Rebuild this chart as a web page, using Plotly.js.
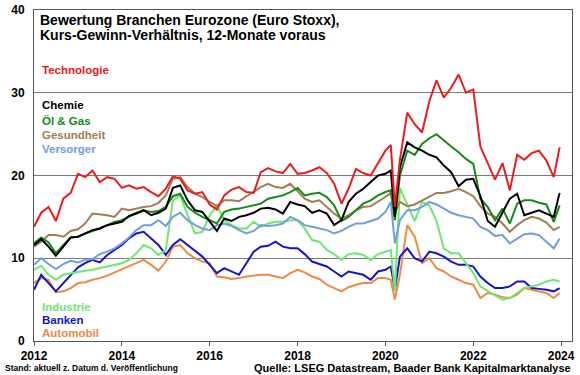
<!DOCTYPE html>
<html>
<head>
<meta charset="utf-8">
<script src="https://cdn.plot.ly/plotly-3.0.1.min.js"></script>
<style>html,body{margin:0;padding:0;background:#fff;}#chart{width:580px;height:375px;}</style>
</head>
<body>
<div id="chart"></div>
<script>
const dates = ["2012-01-01","2012-03-01","2012-05-01","2012-07-01","2012-09-01","2012-11-01",
"2013-01-01","2013-03-01","2013-05-01","2013-07-01","2013-09-01","2013-11-01",
"2014-01-01","2014-03-01","2014-05-01","2014-07-01","2014-09-01","2014-11-01",
"2015-01-01","2015-03-01","2015-05-01","2015-07-01","2015-09-01","2015-11-01",
"2016-01-01","2016-03-01","2016-05-01","2016-07-01","2016-09-01","2016-11-01",
"2017-01-01","2017-03-01","2017-05-01","2017-07-01","2017-09-01","2017-11-01",
"2018-01-01","2018-03-01","2018-05-01","2018-07-01","2018-09-01","2018-11-01",
"2019-01-01","2019-03-01","2019-05-01","2019-07-01","2019-09-01","2019-11-01",
"2020-01-01","2020-02-15","2020-03-20","2020-05-01","2020-07-01","2020-09-01","2020-11-01",
"2021-01-01","2021-03-01","2021-05-01","2021-07-01","2021-09-01","2021-11-01",
"2022-01-01","2022-03-01","2022-05-01","2022-07-01","2022-09-01","2022-11-01",
"2023-01-01","2023-03-01","2023-05-01","2023-07-01","2023-09-01","2023-11-01","2023-12-20"];

const technologie = [13.8,15.5,16.2,14.5,17.2,17.9, 20.2,19.8,20.6,19.2,19.8,19.6, 18.5,18.8,18.4,18.6,18.0,17.5,
 18.4,19.9,19.6,18.2,17.8,18.0, 16.5,15.9,17.6,18.3,18.6,18.0, 17.9,20.4,20.9,20.5,20.3,21.4,
 20.2,20.3,20.6,21.0,20.3,19.0, 16.6,18.4,20.8,20.3,20.0,21.5, 23.0,23.7,16.2,21.9,27.6,26.2,25.2,
 29.0,31.5,29.4,30.6,32.2,30.0, 30.4,23.5,21.5,19.5,21.5,18.2, 22.5,21.9,22.7,23.0,21.8,19.8,23.4];

const chemie = [11.6,12.3,11.4,10.3,11.4,12.5, 12.6,13.0,13.4,13.6,14.0,14.2, 14.4,15.1,15.4,15.8,15.2,15.5,
 16.0,18.5,18.8,17.0,15.8,15.6, 14.5,13.3,14.8,14.5,15.0,15.2, 15.5,16.0,16.1,15.9,15.4,16.8,
 16.5,16.3,15.5,15.8,15.4,14.0, 14.6,16.8,17.8,18.4,19.2,20.0, 20.2,20.6,15.0,21.0,24.0,23.4,23.0,
 22.5,22.2,21.2,20.4,18.7,19.5, 19.6,17.5,14.5,13.8,15.5,17.2, 17.8,15.2,15.5,15.8,15.4,15.0,17.9];

const oelGas = [11.8,12.5,11.9,10.6,11.6,12.5, 12.6,13.0,13.3,13.6,14.0,14.4, 14.6,15.0,15.5,15.8,15.6,15.7,
 16.2,17.5,17.8,16.2,15.5,15.0, 14.6,14.2,15.6,15.9,16.0,16.2, 16.4,16.6,17.2,17.4,17.6,18.0,
 18.5,17.6,17.8,17.9,17.4,16.4, 14.5,15.0,15.8,16.6,17.0,17.6, 18.0,18.2,14.6,20.0,23.0,22.5,23.8,
 24.5,25.0,24.2,23.5,22.8,22.0, 21.4,17.2,16.2,14.6,16.0,14.2, 16.6,17.0,17.0,16.7,16.5,14.4,16.4];

const gesundheit = [11.4,12.0,12.8,12.8,12.6,13.3, 13.5,14.2,15.4,15.3,15.2,15.0, 16.0,15.8,16.0,16.2,16.3,16.7,
 17.6,19.6,19.8,18.6,17.8,17.4, 16.8,16.3,17.0,17.0,16.9,17.5, 18.0,18.6,19.0,18.6,18.5,19.0,
 18.1,17.2,16.8,17.0,16.2,15.4, 14.8,15.2,15.8,16.2,16.3,16.8, 17.4,17.9,15.5,16.8,16.3,16.5,17.0,
 17.4,17.9,17.9,18.1,18.4,18.0, 17.5,16.3,15.4,15.0,14.2,13.2, 14.0,14.6,15.0,14.8,14.3,13.4,13.8];

const versorger = [9.2,10.0,9.3,8.7,9.3,9.7, 9.5,9.8,9.9,10.5,10.8,11.2, 11.8,12.5,13.4,14.0,14.0,14.6,
 13.9,15.0,15.5,14.6,14.0,13.6, 13.4,14.0,14.2,13.9,13.4,13.0, 13.3,14.0,13.9,14.0,14.2,15.0,
 14.6,14.0,13.8,13.6,13.4,13.0, 13.3,13.8,14.2,14.2,14.5,14.8, 15.6,16.8,11.8,14.6,15.8,15.8,16.2,
 16.8,16.5,16.0,15.5,15.2,15.0, 14.8,13.8,13.4,12.7,12.8,11.8, 12.4,12.9,13.0,12.8,12.0,11.2,12.4];

const industrie = [8.6,9.1,8.0,7.4,8.0,8.2, 8.4,8.5,8.6,8.8,9.0,9.2, 9.4,9.8,10.6,11.6,11.2,10.4,
 11.0,17.0,17.6,15.2,13.0,13.2, 15.2,16.4,14.6,14.0,13.6,13.6, 14.4,13.8,14.2,14.4,14.4,14.6,
 14.6,13.6,12.2,12.0,11.0,10.5, 9.8,10.5,10.6,10.4,9.8,10.5, 10.8,11.0,6.0,18.5,16.5,14.5,16.8,
 16.4,14.5,11.2,10.6,10.6,9.4, 8.2,6.6,6.0,5.5,5.0,5.2, 5.8,6.4,6.6,6.8,7.2,7.4,7.2];

const banken = [6.2,8.0,7.0,6.0,7.0,8.0, 8.9,9.4,9.8,9.5,10.4,11.0, 11.6,12.4,13.0,13.2,12.4,11.6,
 10.4,11.6,12.3,11.6,10.8,10.2, 9.2,8.2,8.8,8.4,8.0,9.4, 10.8,11.4,11.5,12.0,11.4,11.2,
 11.2,10.5,9.6,9.3,9.0,8.4, 7.8,8.4,8.2,8.0,7.4,8.4, 8.6,9.0,6.2,10.2,11.2,10.0,9.6,
 10.8,10.6,10.2,9.6,9.2,9.2, 9.0,7.8,7.0,6.4,6.4,6.6, 7.2,7.2,6.4,6.3,6.2,6.0,6.4];

const automobil = [7.0,7.6,7.4,5.9,6.0,6.4, 7.0,7.1,7.4,7.6,7.9,8.3, 8.6,9.0,9.4,9.8,9.2,8.5,
 9.6,11.4,11.6,10.6,10.0,9.6, 9.4,7.8,7.7,7.5,7.6,7.8, 7.9,8.0,8.0,7.8,7.6,8.2,
 8.6,8.3,7.8,7.5,6.8,6.4, 6.0,6.5,6.8,7.0,7.0,7.6, 7.6,7.4,5.0,8.0,14.0,12.6,9.4,
 10.0,8.8,8.4,7.8,7.4,7.0, 6.8,5.2,5.8,5.6,5.3,5.2, 5.6,6.4,6.2,6.0,5.8,5.2,5.8];

const seriesNames = ["Automobil","Banken","Industrie","Versorger","Gesundheit","Öl & Gas","Chemie","Technologie"];
const seriesData = [automobil, banken, industrie, versorger, gesundheit, oelGas, chemie, technologie];
const seriesColors = ["#ee8a45","#1414cc","#6ee86e","#719ee0","#a47c58","#168a16","#000000","#ee1c1c"];

const yTicks = [0,10,20,30,40];
const xTickYears = ["2012","2014","2016","2018","2020","2022","2024"];

const FONT = "Liberation Sans, Arial, sans-serif";

const traces = seriesNames.map((n, i) => ({
  type: "scatter", mode: "lines", name: n, x: dates, y: seriesData[i],
  line: {color: seriesColors[i], width: 2}, hoverinfo: "skip"
}));

// label positions (paper coords)
const labels = [
  {t:"Technologie", c:"#e8141c", y:0.820},
  {t:"Chemie", c:"#000000", y:0.712},
  {t:"Öl & Gas", c:"#168a16", y:0.665},
  {t:"Gesundheit", c:"#a47c58", y:0.621},
  {t:"Versorger", c:"#719ee0", y:0.579},
  {t:"Industrie", c:"#6ee86e", y:0.103},
  {t:"Banken", c:"#1414cc", y:0.063},
  {t:"Automobil", c:"#ee8a45", y:0.023}
];

const annotations = labels.map(l => ({
  xref:"paper", yref:"paper", x:0.011, y:l.y, xanchor:"left", yanchor:"middle",
  text:"<b>"+l.t+"</b>", showarrow:false, font:{family:FONT, size:11.5, color:l.c}
}));
annotations.push(
  {xref:"paper", yref:"paper", x:0.0074, y:0.970, xanchor:"left", yanchor:"middle", showarrow:false,
   text:"<b>Bewertung Branchen Eurozone (Euro Stoxx),</b>", font:{family:FONT, size:14, color:"#000"}},
  {xref:"paper", yref:"paper", x:0.0074, y:0.924, xanchor:"left", yanchor:"middle", showarrow:false,
   text:"<b>Kurs-Gewinn-Verhältnis, 12-Monate voraus</b>", font:{family:FONT, size:14, color:"#000"}},
  {xref:"paper", yref:"paper", x:-0.0576, y:-0.0816, xanchor:"left", yanchor:"middle", showarrow:false,
   text:"<b>Stand: aktuell z. Datum d. Veröffentlichung</b>", font:{family:FONT, size:8.5, color:"#000"}},
  {xref:"paper", yref:"paper", x:1.002, y:-0.0816, xanchor:"right", yanchor:"middle", showarrow:false,
   text:"<b>Quelle: LSEG Datastream, Baader Bank Kapitalmarktanalyse</b>", font:{family:FONT, size:11, color:"#000"}}
);

const layout = {
  width:580, height:375,
  margin:{l:34, r:8, t:10, b:34},
  paper_bgcolor:"#fff", plot_bgcolor:"#fff",
  showlegend:false,
  xaxis:{
    type:"date", range:["2012-01-01","2024-04-01"],
    tickvals: xTickYears.map(y => y+"-01-01"), ticktext: xTickYears,
    ticks:"outside", ticklen:4, tickcolor:"#555", tickwidth:1,
    showgrid:false, showline:true, linecolor:"#555", linewidth:1, mirror:true,
    tickfont:{family:FONT, size:12, color:"#000", weight:"bold"}, zeroline:false
  },
  yaxis:{
    range:[0,40], tickvals:yTicks, ticktext:yTicks.map(String),
    showgrid:true, gridcolor:"#7a7a7a", gridwidth:1,
    showline:true, linecolor:"#555", linewidth:1, mirror:true, zeroline:false,
    ticks:"", ticklabelstandoff:6,
    tickfont:{family:FONT, size:12, color:"#000", weight:"bold"}
  },
  annotations: annotations
};

Plotly.newPlot("chart", traces, layout, {displayModeBar:false, staticPlot:true});
</script>
</body>
</html>
